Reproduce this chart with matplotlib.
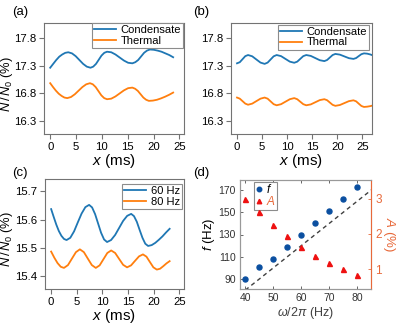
import matplotlib
matplotlib.use("Agg")
import matplotlib.pyplot as plt
import numpy as np

# ---------------- data ----------------
# (a)
cond_a_x = [0, 0.58, 1.17, 1.75, 2.33, 2.92, 3.5, 4.22, 4.93, 5.65, 6.37, 7.08, 7.8, 8.33, 8.87, 9.4, 9.93,
            10.47, 11.0, 11.82, 12.63, 13.45, 14.27, 15.08, 15.9, 16.47, 17.03, 17.6, 18.17, 18.73, 19.3,
            20.05, 20.8, 21.55, 22.3, 23.05, 23.8]
cond_a_y = [17.26, 17.33, 17.40, 17.46, 17.50, 17.53, 17.54, 17.52, 17.47, 17.40, 17.33, 17.28, 17.26,
            17.28, 17.33, 17.405, 17.48, 17.53, 17.55, 17.54, 17.50, 17.445, 17.39, 17.35, 17.34,
            17.36, 17.40, 17.465, 17.53, 17.57, 17.59, 17.585, 17.57, 17.55, 17.52, 17.49, 17.45]
therm_a_x = [0, 0.55, 1.1, 1.65, 2.2, 2.75, 3.3, 4.03, 4.77, 5.5, 6.23, 6.97, 7.7, 8.25, 8.8, 9.35, 9.9,
             10.45, 11.0, 11.82, 12.63, 13.45, 14.27, 15.08, 15.9, 16.43, 16.97, 17.5, 18.03, 18.57, 19.1,
             19.88, 20.67, 21.45, 22.23, 23.02, 23.8]
therm_a_y = [16.98, 16.91, 16.845, 16.79, 16.75, 16.72, 16.71, 16.73, 16.78, 16.845, 16.91, 16.96, 16.98,
             16.96, 16.91, 16.835, 16.76, 16.71, 16.69, 16.70, 16.74, 16.795, 16.85, 16.89, 16.90,
             16.88, 16.84, 16.78, 16.72, 16.68, 16.66, 16.665, 16.68, 16.705, 16.735, 16.77, 16.81]
# (b)
t_b = [0, 0.55, 1.1, 1.65, 2.2, 3.03, 3.85, 4.68, 5.5, 6.1, 6.7, 7.3, 7.9, 8.78, 9.65, 10.53, 11.4,
       12.0, 12.6, 13.2, 13.8, 14.7, 15.6, 16.5, 17.4, 17.95, 18.5, 19.05, 19.6, 20.5, 21.4, 22.3, 23.2,
       23.73, 24.25, 24.78, 25.3, 25.93, 26.57, 27.2]
cond_b_y = [17.34, 17.36, 17.415, 17.47, 17.49, 17.467, 17.41, 17.353, 17.33, 17.353, 17.41, 17.467, 17.49,
            17.47, 17.42, 17.37, 17.35, 17.37, 17.42, 17.47, 17.49, 17.474, 17.435, 17.396, 17.38,
            17.40, 17.445, 17.49, 17.51, 17.497, 17.465, 17.433, 17.42, 17.435, 17.47, 17.505, 17.52,
            17.515, 17.50, 17.48]
therm_b_y = [16.72, 16.70, 16.655, 16.61, 16.59, 16.61, 16.655, 16.70, 16.72, 16.70, 16.65, 16.60, 16.58,
             16.60, 16.645, 16.69, 16.71, 16.69, 16.645, 16.60, 16.58, 16.596, 16.635, 16.674, 16.69,
             16.672, 16.63, 16.588, 16.57, 16.585, 16.62, 16.655, 16.67, 16.652, 16.61, 16.568, 16.55,
             16.555, 16.565, 16.58]
# (c)
hz60_x = [0, 0.5, 1, 1.5, 2, 2.5, 3, 3.73, 4.47, 5.2, 5.93, 6.67, 7.4, 7.98, 8.57, 9.15, 9.73, 10.32, 10.9,
          11.68, 12.47, 13.25, 14.03, 14.82, 15.6, 16.15, 16.7, 17.25, 17.8, 18.35, 18.9,
          19.6, 20.3, 21.0, 21.7, 22.4, 23.1]
hz60_y = [15.637, 15.609, 15.582, 15.559, 15.542, 15.531, 15.527, 15.535, 15.558, 15.59, 15.621, 15.644,
          15.652, 15.643, 15.619, 15.586, 15.553, 15.529, 15.52, 15.527, 15.545, 15.57, 15.595, 15.613,
          15.62, 15.612, 15.592, 15.563, 15.535, 15.514, 15.506, 15.509, 15.517, 15.528, 15.54, 15.554,
          15.567]
hz80_x = [0, 0.625, 1.25, 1.875, 2.5, 3.28, 4.05, 4.83, 5.6, 6.38, 7.15, 7.93, 8.7, 9.45, 10.2, 10.95, 11.7,
          12.48, 13.25, 14.03, 14.8, 15.58, 16.35, 17.13, 17.9, 18.58, 19.25, 19.93, 20.6,
          21.23, 21.85, 22.48, 23.1]
hz80_y = [15.486, 15.464, 15.445, 15.432, 15.428, 15.438, 15.461, 15.484, 15.494, 15.484, 15.461, 15.438,
          15.428, 15.437, 15.459, 15.481, 15.49, 15.481, 15.46, 15.439, 15.43, 15.437, 15.453, 15.469,
          15.476, 15.468, 15.449, 15.43, 15.422, 15.425, 15.434, 15.444, 15.452]
# (d)
omega = [40, 45, 50, 55, 60, 65, 70, 75, 80]
f_vals = [90, 101, 108, 119, 130, 140.5, 151.5, 162, 173]
A_vals = [2.99, 2.63, 2.27, 1.93, 1.63, 1.37, 1.16, 0.99, 0.84]
line_x = np.array([40, 85])
line_y = 2 * line_x

# ---------------- styling ----------------
plt.rcParams['font.family'] = ['Liberation Sans', 'DejaVu Sans']
plt.rcParams['mathtext.fontset'] = 'custom'
plt.rcParams['mathtext.rm'] = 'Liberation Sans'
plt.rcParams['mathtext.it'] = 'Liberation Sans:italic'
plt.rcParams['mathtext.bf'] = 'Liberation Sans:bold'
W, H = 398, 327
fig = plt.figure(figsize=(W / 100, H / 100), dpi=100)

def box(l, t, r, b):
    return [l / W, 1 - b / H, (r - l) / W, (b - t) / H]

BLUE = '#1f77b4'
ORANGE = '#ff7f0e'
SPINE = '0.45'
TFS = 8.2
LFS = 10

def style(ax):
    for s in ax.spines.values():
        s.set_color(SPINE)
        s.set_linewidth(0.8)
    ax.tick_params(labelsize=TFS, length=3.5, width=0.8, color=SPINE, pad=2)

def leg(ax, bbox):
    lg = ax.legend(fontsize=8, loc='upper right', bbox_to_anchor=bbox, borderaxespad=0,
                   fancybox=False, framealpha=1, edgecolor='0.55', handlelength=2.0,
                   handletextpad=0.4, borderpad=0.2, labelspacing=0.05)
    lg.get_frame().set_linewidth(0.8)
    return lg

def ylab(ax, left_px, width_px, center_px=7.5):
    ax.set_ylabel(r'$N\,/\,N_0$ (%)', fontsize=9.3, va='center')
    ax.yaxis.set_label_coords((center_px - left_px) / width_px, 0.45)

# (a)
ax = fig.add_axes(box(44, 23, 184, 134))
ax.plot(cond_a_x, cond_a_y, color=BLUE, lw=1.3, label='Condensate')
ax.plot(therm_a_x, therm_a_y, color=ORANGE, lw=1.3, label='Thermal')
ax.set_xlim(-1.2, 25.9)
ax.set_ylim(16.06, 18.07)
ax.set_xticks([0, 5, 10, 15, 20, 25])
ax.set_yticks([16.3, 16.8, 17.3, 17.8])
ax.set_xlabel(r'$x$ (ms)', fontsize=LFS + 1, labelpad=0)
ylab(ax, 44, 140)
style(ax)
leg(ax, (0.995, 1.0))
fig.text(20 / W, 1 - 12 / H, '(a)', fontsize=9.5, ha='center', va='center')

# (b)
ax = fig.add_axes(box(231, 23, 372, 134))
ax.plot(t_b, cond_b_y, color=BLUE, lw=1.3, label='Condensate')
ax.plot(t_b, therm_b_y, color=ORANGE, lw=1.3, label='Thermal')
ax.set_xlim(-1.2, 26.9)
ax.set_ylim(16.06, 18.07)
ax.set_xticks([0, 5, 10, 15, 20, 25])
ax.set_yticks([16.3, 16.8, 17.3, 17.8])
ax.set_xlabel(r'$x$ (ms)', fontsize=LFS + 1, labelpad=0)
style(ax)
leg(ax, (0.98, 0.985))
fig.text(201 / W, 1 - 12 / H, '(b)', fontsize=9.5, ha='center', va='center')

# (c)
ax = fig.add_axes(box(45, 179, 184, 289))
ax.plot(hz60_x, hz60_y, color=BLUE, lw=1.3, label='60 Hz')
ax.plot(hz80_x, hz80_y, color=ORANGE, lw=1.3, label='80 Hz')
ax.set_xlim(-1.2, 25.9)
ax.set_ylim(15.353, 15.744)
ax.set_xticks([0, 5, 10, 15, 20, 25])
ax.set_yticks([15.4, 15.5, 15.6, 15.7])
ax.set_xlabel(r'$x$ (ms)', fontsize=LFS + 1, labelpad=0)
ylab(ax, 45, 139)
style(ax)
leg(ax, (0.985, 0.955))
fig.text(20 / W, 1 - 173 / H, '(c)', fontsize=9.5, ha='center', va='center')

# (d)
DBLUE = '#0b4fa0'
RED = '#ee1111'
ACOL = '#e8693a'
DGRAY = '0.6'
ax = fig.add_axes(box(240, 180, 371, 289))
ax2 = ax.twinx()
h1, = ax.plot(omega, f_vals, 'o', color=DBLUE, ms=3.6, label=r'$f$')
ax.plot(line_x, line_y, '--', color='0.25', lw=1.0, dashes=(3, 2.5))
h2, = ax2.plot(omega, A_vals, '^', color=RED, ms=3.6, label=r'$A$')
ax.set_xlim(38.1, 84.9)
ax.set_ylim(81, 179)
ax2.set_ylim(0.43, 3.54)
ax.set_xticks([40, 50, 60, 70, 80])
ax.set_yticks([90, 110, 130, 150, 170])
ax2.set_yticks([1, 2, 3])
for a in (ax, ax2):
    for s in a.spines.values():
        s.set_color(DGRAY)
        s.set_linewidth(0.8)
ax2.spines['right'].set_color(ACOL)
ax.tick_params(labelsize=7.5, direction='in', length=2.5, width=0.6, color='0.3', top=True, pad=3,
               labelcolor='0.2')
ax2.tick_params(labelsize=8.5, direction='in', length=2.5, width=0.6, color=ACOL, labelcolor=ACOL, pad=3)
ax.set_xlabel(r'$\omega/2\pi$ (Hz)', fontsize=9, color='0.25', labelpad=1)
ax.set_ylabel(r'$f$ (Hz)', fontsize=9.5, labelpad=1)
ax2.set_ylabel(r'$A$ (%)', fontsize=9.5, color=ACOL, rotation=270, labelpad=11)
lg = ax.legend([h1, h2], [r'$f$', r'$A$'], fontsize=8.5, loc='upper left', bbox_to_anchor=(0.11, 0.985),
               borderaxespad=0, fancybox=False, framealpha=1, edgecolor='0.55', handlelength=0.5,
               handletextpad=0.3, borderpad=0.15, labelspacing=-0.1, markerscale=0.9)
lg.get_frame().set_linewidth(0.8)
lg.get_texts()[1].set_color(ACOL)
fig.text(201 / W, 1 - 173 / H, '(d)', fontsize=9.5, ha='center', va='center')

fig.savefig('out.png', dpi=100)
